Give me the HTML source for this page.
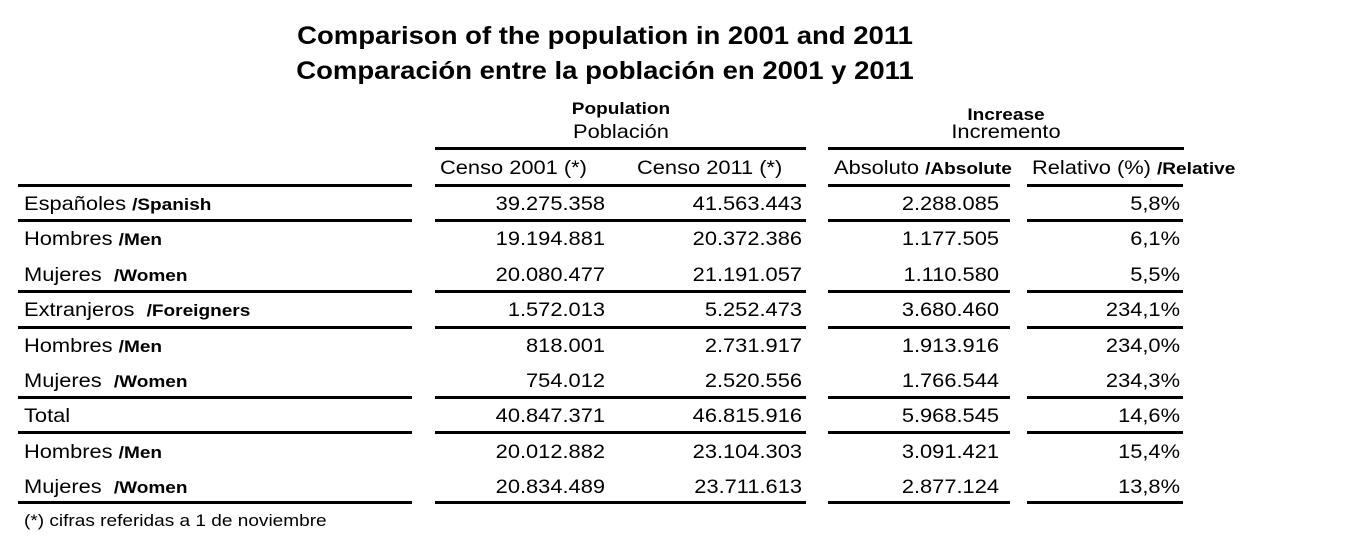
<!DOCTYPE html>
<html><head><meta charset="utf-8"><style>
body{margin:0;width:1347px;height:544px;background:#fff;position:relative;overflow:hidden;font-family:"Liberation Sans",Arial,sans-serif;color:#000}
div{position:absolute;white-space:nowrap}
.t{font-weight:bold;font-size:25px;left:605px;transform:translateX(-50%) scaleX(1.1)}
.ln{background:#000;height:3px}
.c{font-size:19.5px;line-height:22px;transform:scaleX(1.12);transform-origin:left}
.r{transform-origin:right;text-align:right}
.m{transform-origin:center;text-align:center}
b{font-size:17px}
</style></head><body>
<div class="t" style="top:22px">Comparison of the population in 2001 and 2011</div>
<div class="t" style="top:57px">Comparación entre la población en 2001 y 2011</div>
<div class="c m" style="left:435px;width:372px;top:98px;font-size:17px;font-weight:bold">Population</div>
<div class="c m" style="left:435px;width:372px;top:121px">Población</div>
<div class="c m" style="left:828px;width:356px;top:104px;font-size:17px;font-weight:bold">Increase</div>
<div class="c m" style="left:828px;width:356px;top:121px">Incremento</div>
<div class="ln" style="left:435px;width:371px;top:147px"></div>
<div class="ln" style="left:828px;width:356px;top:147px"></div>
<div class="c" style="left:440px;top:157px">Censo 2001 (*)</div>
<div class="c" style="left:637px;top:157px">Censo 2011 (*)</div>
<div class="c" style="left:834px;top:157px">Absoluto <b>/Absolute</b></div>
<div class="c" style="left:1032px;top:157px">Relativo (%) <b>/Relative</b></div>
<div id="g"></div>
<script>
var rows=[["Españoles ","/Spanish","39.275.358","41.563.443","2.288.085","5,8%"],
["Hombres ","/Men","19.194.881","20.372.386","1.177.505","6,1%"],
["Mujeres &nbsp;","/Women","20.080.477","21.191.057","1.110.580","5,5%"],
["Extranjeros &nbsp;","/Foreigners","1.572.013","5.252.473","3.680.460","234,1%"],
["Hombres ","/Men","818.001","2.731.917","1.913.916","234,0%"],
["Mujeres &nbsp;","/Women","754.012","2.520.556","1.766.544","234,3%"],
["Total","","40.847.371","46.815.916","5.968.545","14,6%"],
["Hombres ","/Men","20.012.882","23.104.303","3.091.421","15,4%"],
["Mujeres &nbsp;","/Women","20.834.489","23.711.613","2.877.124","13,8%"]];
var h="",rights=[605,802,999,1180];
rows.forEach(function(r,i){var y=193+i*35.4;
h+='<div class="c" style="left:24px;top:'+y+'px">'+r[0]+'<b>'+r[1]+'</b></div>';
for(var k=0;k<4;k++)h+='<div class="c r" style="left:'+(rights[k]-200)+'px;width:200px;top:'+y+'px">'+r[k+2]+'</div>';});
[184,219,290,326,396,431,501].forEach(function(y){
[[18,394],[435,371],[632,173],[828,182],[1027,156]].forEach(function(s){
h+='<div class="ln" style="left:'+s[0]+'px;width:'+s[1]+'px;top:'+y+'px"></div>';});});
h+='<div style="left:24px;top:511px;font-size:17px;transform:scaleX(1.12);transform-origin:left">(*) cifras referidas a 1 de noviembre</div>';
document.getElementById("g").outerHTML=h;
</script>
</body></html>
